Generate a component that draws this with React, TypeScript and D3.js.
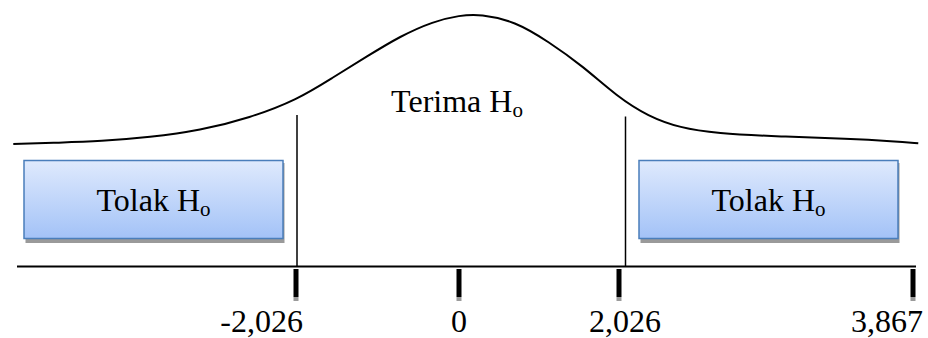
import React, { useEffect, useRef } from "react";
import * as d3 from "d3";

// critical values and the axis end value (schematic axis, not to scale)
const tickValues = [-2.026, 0, 2.026, 3.867];
const tickLabels = ["-2,026", "0", "2,026", "3,867"];
// hand drawn distribution curve
const curveZ = [-5.54, -4.96, -4.46, -3.84, -3.22, -2.6, -2.01, -1.57, -1.14, -0.73, -0.32, 0.01, 0.27, 0.71, 1.13, 1.57, 2.0, 2.21, 2.41, 2.63, 3.04, 3.46, 3.75, 3.9];
const curveDensity = [0.03, 0.04, 0.05, 0.08, 0.13, 0.225, 0.36, 0.525, 0.685, 0.835, 0.945, 0.99, 1.0, 0.945, 0.795, 0.61, 0.385, 0.235, 0.15, 0.11, 0.085, 0.07, 0.05, 0.035];
const acceptLabel = "Terima H";
const rejectLabel = "Tolak H";

const width = 928;
const height = 338;
const axisY = 266.5;
const font = "Liberation Serif, Times New Roman, DejaVu Serif, serif";
const fontSize = "32px";
const subSize = "21px";

function App() {
    const svgRef = useRef<SVGSVGElement>(null);

    useEffect(() => {
        document.body.style.margin = "0";
        const svg = d3.select(svgRef.current);
        svg.selectAll("*").remove();

        // piecewise scale: the diagram squeezes the tail beyond 2,026
        const x = d3.scaleLinear().domain(tickValues).range([296, 459, 619, 913]);
        const y = d3.scaleLinear().domain([0, 1]).range([148, 14]);

        const defs = svg.append("defs");
        const grad = defs.append("linearGradient")
            .attr("id", "boxFill")
            .attr("x1", 0).attr("y1", 0).attr("x2", 0).attr("y2", 1);
        grad.append("stop").attr("offset", "0%").attr("stop-color", "#dfeafd");
        grad.append("stop").attr("offset", "100%").attr("stop-color", "#a3c2f7");

        // curve
        const line = d3.line<number>()
            .x((d, i) => x(curveZ[i]))
            .y(d => y(d))
            .curve(d3.curveBasis);
        svg.append("path")
            .datum(curveDensity)
            .attr("d", line)
            .attr("fill", "none")
            .attr("stroke", "#000")
            .attr("stroke-width", 2);

        // critical value lines
        const critical = [tickValues[0], tickValues[2]];
        const critOffset = [1, 6.5];
        svg.selectAll(".crit")
            .data(critical)
            .join("line")
            .attr("class", "crit")
            .attr("x1", (d, i) => x(d) + critOffset[i])
            .attr("x2", (d, i) => x(d) + critOffset[i])
            .attr("y1", (d, i) => (i === 0 ? 115 : 116.5))
            .attr("y2", axisY)
            .attr("stroke", "#000")
            .attr("stroke-width", 1.5);

        // horizontal axis
        svg.append("line")
            .attr("x1", 17).attr("x2", 916)
            .attr("y1", axisY).attr("y2", axisY)
            .attr("stroke", "#000")
            .attr("stroke-width", 2);

        // thick ticks with grey shadow
        const ticks = svg.selectAll(".tick")
            .data(tickValues)
            .join("g")
            .attr("class", "tick")
            .attr("transform", d => `translate(${x(d)},0)`);
        ticks.append("rect")
            .attr("x", -2.5).attr("y", 297).attr("width", 5).attr("height", 4)
            .attr("fill", "#9a9a9a");
        ticks.append("rect")
            .attr("x", -2.5).attr("y", 269).attr("width", 5).attr("height", 28)
            .attr("fill", "#000");

        const labelAnchor = ["end", "middle", "middle", "end"];
        const labelDx = [7, 0, 6, 10];
        ticks.append("text")
            .attr("x", (d, i) => labelDx[i])
            .attr("y", 331.5)
            .attr("text-anchor", (d, i) => labelAnchor[i])
            .style("font-family", font)
            .style("font-size", fontSize)
            .text((d, i) => tickLabels[i]);

        // rejection boxes
        const boxW = 259;
        const boxes = [x(tickValues[0]) - 272, x(tickValues[2]) + 20];
        const box = svg.selectAll(".box")
            .data(boxes)
            .join("g")
            .attr("class", "box")
            .attr("transform", d => `translate(${d},160.5)`);
        box.append("rect")
            .attr("x", 1.5).attr("y", 2.5).attr("width", boxW).attr("height", 80)
            .attr("fill", "#9a9a9a");
        box.append("rect")
            .attr("width", boxW).attr("height", 78)
            .attr("fill", "url(#boxFill)")
            .attr("stroke", "#4a7ebb")
            .attr("stroke-width", 1.5);
        const boxText = box.append("text")
            .attr("x", boxW / 2)
            .attr("y", 50)
            .attr("text-anchor", "middle")
            .style("font-family", font)
            .style("font-size", fontSize);
        boxText.append("tspan").text(rejectLabel);
        boxText.append("tspan").style("font-size", subSize).attr("dy", 5).text("o");

        // acceptance label
        const acc = svg.append("text")
            .attr("x", 457)
            .attr("y", 111.5)
            .attr("text-anchor", "middle")
            .style("font-family", font)
            .style("font-size", fontSize);
        acc.append("tspan").text(acceptLabel);
        acc.append("tspan").style("font-size", subSize).attr("dy", 5).text("o");
    }, []);

    return (
        <div>
            <svg ref={svgRef} width={width} height={height} style={{ display: "block", background: "#fff" }} />
        </div>
    );
}

export default App;
